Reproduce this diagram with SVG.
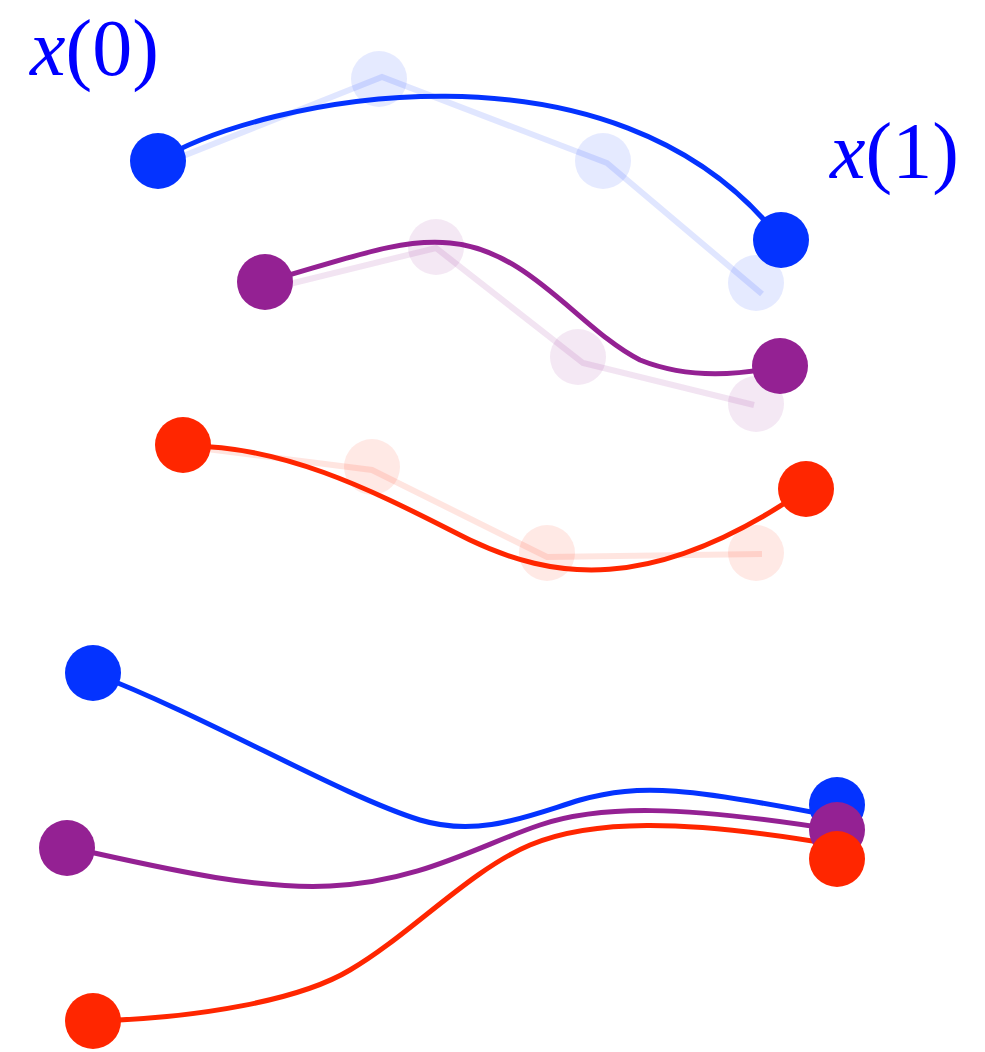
<svg xmlns="http://www.w3.org/2000/svg" width="985" height="1052" viewBox="0 0 985 1052">
<style>
.lbl{font-family:"Liberation Serif","Times New Roman",serif;font-size:80px;fill:#0000ff}
.it{font-style:italic}
.curve{fill:none;stroke-width:5;stroke-linecap:round}
.ghostline{fill:none;stroke-width:6;opacity:0.12}
.ghost{opacity:0.1}
.b{stroke:#0433FF}
.p{stroke:#942193}
.r{stroke:#FF2600}
.fb{fill:#0433FF}
.fp{fill:#942193}
.fr{fill:#FF2600}
</style>
<rect width="985" height="1052" fill="#ffffff"/>
<g id="connectors">
  <polyline class="ghostline b" points="158,166 382,77 607,163 762,294"/>
  <polyline class="ghostline p" points="265,290 436,248 583,363 754,405"/>
  <polyline class="ghostline r" points="183,446 372,470 547,557 762,554"/>
  <path class="curve b" d="M158,161 C260,98 615,25 781,240"/>
  <path class="curve p" d="M265,282 C350,258 400,238 450,243 C530,250 580,330 640,360 C690,380 740,375 780,366"/>
  <path class="curve r" d="M183,446 C290,444 390,500 470,540 C550,578 650,597 806,489"/>
  <path class="curve b" d="M93,673 C210,718 340,795 420,820 C480,838 530,815 580,800 C640,783 690,788 837,817"/>
  <path class="curve p" d="M67,847 C150,865 250,890 330,886 C420,882 480,845 540,825 C600,805 680,805 837,830"/>
  <path class="curve r" d="M93,1021 C200,1018 300,1000 350,970 C410,935 470,870 530,845 C590,820 680,818 837,845"/>
</g>
<g id="ghost-points">
  <circle class="ghost fb" cx="379" cy="79" r="28"/>
  <circle class="ghost fb" cx="603" cy="161" r="28"/>
  <circle class="ghost fb" cx="756" cy="283" r="28"/>
  <circle class="ghost fp" cx="436" cy="247" r="28"/>
  <circle class="ghost fp" cx="578" cy="357" r="28"/>
  <circle class="ghost fp" cx="756" cy="404" r="28"/>
  <circle class="ghost fr" cx="372" cy="467" r="28"/>
  <circle class="ghost fr" cx="547" cy="553" r="28"/>
  <circle class="ghost fr" cx="756" cy="553" r="28"/>
</g>
<g id="top-blue-start"><circle class="fb" cx="158" cy="161" r="28"/></g>
<g id="top-blue-end"><circle class="fb" cx="781" cy="240" r="28"/></g>
<g id="top-purple-start"><circle class="fp" cx="265" cy="282" r="28"/></g>
<g id="top-purple-end"><circle class="fp" cx="780" cy="366" r="28"/></g>
<g id="top-red-start"><circle class="fr" cx="183" cy="445" r="28"/></g>
<g id="top-red-end"><circle class="fr" cx="806" cy="489" r="28"/></g>
<g id="bot-blue-start"><circle class="fb" cx="93" cy="673" r="28"/></g>
<g id="bot-purple-start"><circle class="fp" cx="67" cy="848" r="28"/></g>
<g id="bot-red-start"><circle class="fr" cx="93" cy="1021" r="28"/></g>
<g id="bot-blue-end"><circle class="fb" cx="837" cy="805" r="28"/></g>
<g id="bot-purple-end"><circle class="fp" cx="837" cy="830" r="28"/></g>
<g id="bot-red-end"><circle class="fr" cx="837" cy="859" r="28"/></g>
<g id="label-x0"><text class="lbl" x="30" y="75"><tspan class="it">x</tspan>(0)</text></g>
<g id="label-x1"><text class="lbl" x="830" y="178"><tspan class="it">x</tspan>(1)</text></g>
</svg>
